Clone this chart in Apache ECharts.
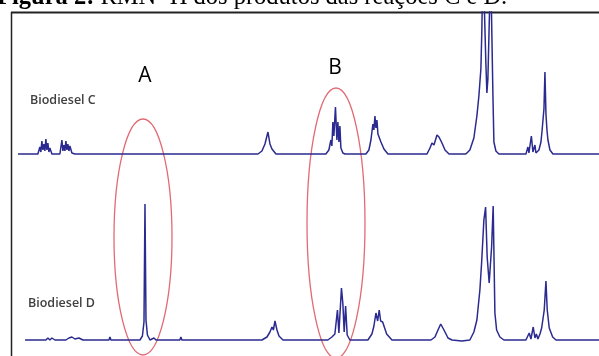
<!DOCTYPE html>
<html>
<head>
<meta charset="utf-8">
<script src="https://cdn.jsdelivr.net/npm/echarts@6/dist/echarts.min.js"></script>
<style>
html, body { margin: 0; padding: 0; background: #fff; }
#chart { width: 599px; height: 356px; }
</style>
</head>
<body>
<div id="chart"></div>
<script>
// Biodiesel C: chemical shift (ppm) and intensity
const shiftC = [4.566, 4.427, 4.413, 4.406, 4.399, 4.392, 4.385, 4.378, 4.371, 4.364, 4.357, 4.350, 4.343, 4.329,
  4.273, 4.259, 4.252, 4.245, 4.238, 4.231, 4.224, 4.217, 4.210, 4.203, 4.189, 4.168,
  2.888, 2.860, 2.839, 2.832, 2.818, 2.804, 2.790, 2.762,
  2.413, 2.392, 2.378, 2.371, 2.364, 2.357, 2.346, 2.336, 2.329, 2.322, 2.315, 2.308, 2.294, 2.280,
  2.133, 2.112, 2.098, 2.091, 2.084, 2.077, 2.070, 2.063, 2.056, 2.049, 2.042, 2.028, 2.007, 1.979,
  1.706, 1.685, 1.671, 1.657, 1.636, 1.622, 1.601, 1.580, 1.552,
  1.434, 1.406, 1.378, 1.357, 1.343, 1.329, 1.322, 1.315, 1.304, 1.294, 1.287, 1.280, 1.269, 1.262, 1.252, 1.245, 1.238, 1.224, 1.203,
  1.014, 1.000, 0.993, 0.976, 0.965, 0.951, 0.944,
  0.923, 0.909, 0.902, 0.895, 0.888, 0.881, 0.874, 0.867, 0.860, 0.846, 0.825, 0.503];
const intensC = [0, 0, 7, 2, 13, 4, 10, 3, 15, 4, 11, 2, 6, 0,
  0, 14, 3, 9, 3, 13, 4, 10, 3, 8, 1, 0,
  0, 3, 10, 8, 22, 10, 5, 0,
  0, 4, 14, 8, 32, 18, 47, 14, 32, 12, 28, 6, 1, 0,
  0, 4, 14, 22, 30, 24, 38, 26, 34, 20, 22, 12, 5, 0,
  0, 6, 11, 9, 19, 17, 11, 4, 0,
  0, 4, 16, 38, 58, 85, 125, 200, 200, 90, 61, 75, 140, 200, 200, 60, 12, 3, 0,
  0, 7, 1, 18, 2, 9, 1,
  4, 12, 22, 24, 45, 82, 40, 24, 14, 4, 0, 0];

// Biodiesel D
const shiftD = [4.517, 4.371, 4.357, 4.343, 4.329, 4.308, 4.231, 4.210, 4.189, 4.168, 4.140, 4.112,
  3.930, 3.923, 3.916,
  3.713, 3.696, 3.685, 3.678, 3.671, 3.661, 3.643, 3.615, 3.601, 3.434, 3.427, 3.420,
  2.860, 2.825, 2.804, 2.790, 2.780, 2.769, 2.755, 2.741, 2.713,
  2.399, 2.371, 2.350, 2.332, 2.322, 2.304, 2.294, 2.285, 2.275, 2.264, 2.245,
  2.119, 2.091, 2.077, 2.063, 2.051, 2.040, 2.030, 2.016, 1.988, 1.951,
  1.678, 1.650, 1.629, 1.610, 1.587, 1.559, 1.531, 1.462,
  1.406, 1.378, 1.357, 1.336, 1.324, 1.308, 1.296, 1.285, 1.271, 1.254, 1.243, 1.231, 1.219, 1.196, 1.168,
  1.014, 0.991, 0.979, 0.963, 0.951, 0.941, 0.930,
  0.916, 0.904, 0.886, 0.874, 0.865, 0.851, 0.827, 0.804, 0.503];
const intensD = [0, 0, 2, 0, 2, 0, 0, 2, 3, 1, 2, 0,
  0, 3, 0,
  0, 4, 18, 136, 20, 5, 0, 2, 0, 0, 3, 0,
  0, 3, 8, 13, 10, 19, 10, 4, 0,
  0, 3, 6, 30, 7, 52, 36, 8, 34, 5, 0,
  0, 6, 14, 27, 19, 30, 19, 18, 6, 0,
  0, 3, 10, 16, 10, 2, 0, -1,
  0, 8, 20, 50, 77, 120, 133, 83, 57, 93, 134, 27, 10, 3, 0,
  0, 7, 1, 13, 2, 6, 1,
  6, 12, 30, 59, 30, 12, 3, 0, 0];

const sampleLabels = ["Biodiesel C", "Biodiesel D"];
const regionLabels = ["A", "B"];
const caption = "{b|Figura 2:} RMN ¹H dos produtos das reações C e D.";

const lineColor = "#2a2a90";
const ringColor = "#e26a74";

const chart = echarts.init(document.getElementById("chart"));

const option = {
  animation: false,
  backgroundColor: "#fff",
  grid: [
    { left: 18, right: 0, top: 12, height: 152 },
    { left: 18, right: 0, top: 150, height: 200 }
  ],
  xAxis: [
    { type: "value", gridIndex: 0, min: 0.503, max: 4.566, inverse: true, show: false },
    { type: "value", gridIndex: 1, min: 0.503, max: 4.566, inverse: true, show: false }
  ],
  yAxis: [
    { type: "value", gridIndex: 0, min: -10, max: 142, show: false },
    { type: "value", gridIndex: 1, min: -10, max: 190, show: false }
  ],
  series: [
    {
      name: sampleLabels[0],
      type: "line",
      xAxisIndex: 0,
      yAxisIndex: 0,
      data: shiftC.map((s, i) => [s, intensC[i]]),
      symbol: "none",
      clip: true,
      lineStyle: { color: lineColor, width: 1.5 }
    },
    {
      name: sampleLabels[1],
      type: "line",
      xAxisIndex: 1,
      yAxisIndex: 1,
      data: shiftD.map((s, i) => [s, intensD[i]]),
      symbol: "none",
      clip: true,
      lineStyle: { color: lineColor, width: 1.5 }
    }
  ],
  graphic: [
    // moldura
    { type: "line", shape: { x1: 11.5, y1: 12, x2: 11.5, y2: 360 }, style: { stroke: "#222", lineWidth: 1.5 } },
    { type: "line", shape: { x1: 11, y1: 12.5, x2: 600, y2: 12.5 }, style: { stroke: "#222", lineWidth: 1.8 } },
    // regiões A e B
    { type: "ellipse", shape: { cx: 143, cy: 237, rx: 29, ry: 118 }, style: { fill: "none", stroke: ringColor, lineWidth: 1.3 } },
    { type: "ellipse", shape: { cx: 336, cy: 223, rx: 29, ry: 135 }, style: { fill: "none", stroke: ringColor, lineWidth: 1.3 } },
    {
      type: "text", x: -3, y: -2,
      style: {
        text: caption, fontFamily: "Liberation Serif", fontSize: 24.5, fill: "#000",
        textVerticalAlign: "middle",
        rich: { b: { fontFamily: "Liberation Serif", fontSize: 24.5, fontWeight: "bold", fill: "#000" } }
      }
    },
    { type: "text", x: 145, y: 76, style: { text: regionLabels[0], fontFamily: "Open Sans", fontWeight: 500, fontSize: 21, fill: "#000", textAlign: "center", textVerticalAlign: "middle" } },
    { type: "text", x: 335, y: 68, style: { text: regionLabels[1], fontFamily: "Open Sans", fontWeight: 500, fontSize: 21, fill: "#000", textAlign: "center", textVerticalAlign: "middle" } },
    { type: "text", x: 30, y: 100, style: { text: sampleLabels[0], fontFamily: "Open Sans", fontWeight: 600, fontSize: 12.5, fill: "#404040", textVerticalAlign: "middle" } },
    { type: "text", x: 28, y: 303, style: { text: sampleLabels[1], fontFamily: "Open Sans", fontWeight: 600, fontSize: 12.5, fill: "#404040", textVerticalAlign: "middle" } }
  ]
};

chart.setOption(option);
window.addEventListener("resize", function () {
  chart.resize();
});
</script>
</body>
</html>
